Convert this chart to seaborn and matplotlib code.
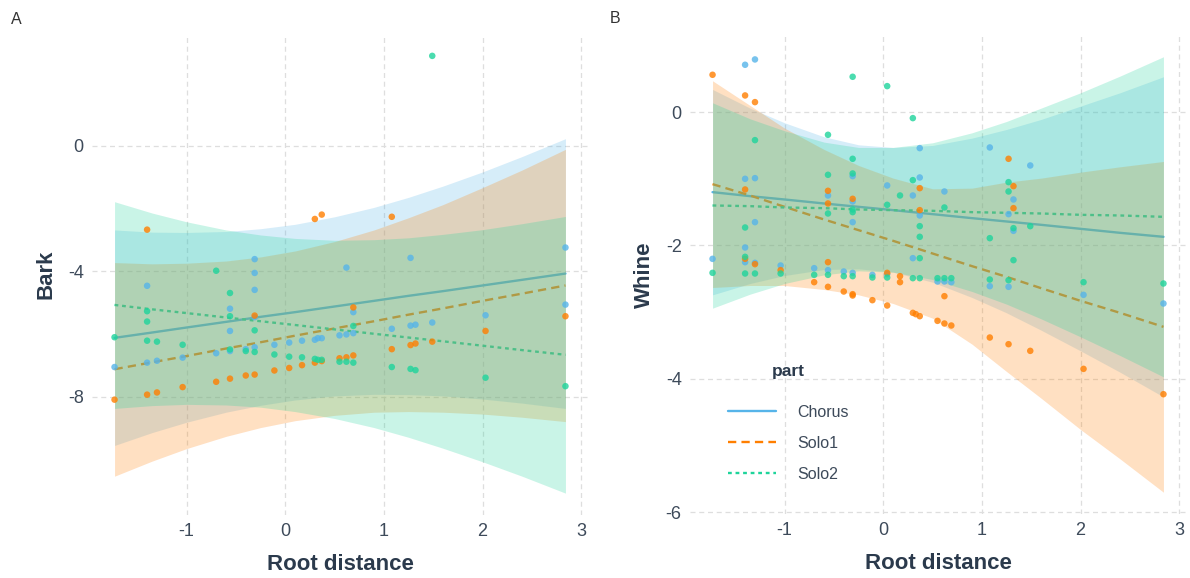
import pandas as pd
import matplotlib
matplotlib.use("Agg")
import matplotlib.pyplot as plt
from matplotlib.lines import Line2D
import seaborn as sns

parts = ["Chorus", "Solo1", "Solo2"]
colors = {"Chorus": "#56B4E9", "Solo1": "#FF7F00", "Solo2": "#1ED49B"}
line_dashes = {"Chorus": "", "Solo1": (3.5, 2.2), "Solo2": (1.6, 1.6)}

grid_x = [-1.73, -1.35, -1.0, -0.6, -0.25, 0.1, 0.5, 0.9, 1.25, 1.6, 2.0, 2.4, 2.84]

# ---- panel A : Bark ----
bark_chorus_x = [-1.73, -1.40, -1.40, -1.30, -1.04, -0.70, -0.56, -0.56, -0.56, -0.40, -0.31, -0.31, -0.31, -0.31, -0.31,
                 -0.11, 0.04, 0.17, 0.30, 0.33, 0.37, 0.55, 0.62, 0.62, 0.69, 0.69, 1.08, 1.27, 1.27, 1.32, 1.49, 2.03, 2.84, 2.84]
bark_chorus_y = [-7.06, -4.47, -6.92, -6.86, -6.76, -6.62, -5.20, -5.91, -6.55, -6.49, -3.62, -4.06, -4.60, -5.47, -6.43,
                 -6.35, -6.28, -6.22, -6.19, -6.14, -6.14, -6.05, -6.02, -3.89, -5.98, -5.31, -5.84, -5.74, -3.58, -5.71, -5.64, -5.41, -3.25, -5.07]
bark_solo1_x = [-1.73, -1.40, -1.40, -1.30, -1.04, -0.70, -0.56, -0.40, -0.31, -0.31, -0.11, 0.04, 0.17, 0.30, 0.37,
                0.30, 0.37, 0.55, 0.62, 0.69, 0.69, 1.08, 1.08, 1.27, 1.32, 1.49, 2.03, 2.84]
bark_solo1_y = [-8.10, -2.68, -7.94, -7.87, -7.70, -7.53, -7.43, -7.33, -7.30, -5.42, -7.17, -7.09, -7.00, -2.34, -2.20,
                -6.92, -6.87, -6.78, -6.75, -6.69, -5.16, -2.27, -6.49, -6.36, -6.31, -6.25, -5.91, -5.44]
bark_solo2_x = [-1.73, -1.40, -1.40, -1.40, -1.30, -1.04, -0.70, -0.56, -0.56, -0.56, -0.40, -0.31, -0.31, -0.11, 0.04,
                0.17, 0.30, 0.33, 0.37, 0.55, 0.62, 0.69, 0.69, 1.08, 1.27, 1.32, 1.49, 2.03, 2.84]
bark_solo2_y = [-6.11, -5.28, -5.61, -6.22, -6.25, -6.35, -3.99, -4.70, -5.44, -6.50, -6.55, -5.89, -6.58, -6.66, -6.73,
                -6.75, -6.80, -6.83, -6.83, -6.89, -6.89, -6.92, -5.75, -7.06, -7.12, -7.16, 2.86, -7.40, -7.67]

bark_chorus_fit = [-6.13, -5.96, -5.80, -5.62, -5.46, -5.31, -5.13, -4.95, -4.79, -4.64, -4.46, -4.28, -4.08]
bark_chorus_hi = [-2.69, -2.76, -2.77, -2.74, -2.65, -2.51, -2.27, -1.97, -1.65, -1.29, -0.84, -0.35, 0.22]
bark_chorus_lo = [-9.56, -9.15, -8.82, -8.50, -8.28, -8.11, -7.98, -7.93, -7.94, -7.98, -8.08, -8.21, -8.38]
bark_solo1_fit = [-7.13, -6.91, -6.71, -6.47, -6.27, -6.06, -5.83, -5.60, -5.39, -5.19, -4.95, -4.72, -4.46]
bark_solo1_hi = [-3.73, -3.77, -3.75, -3.68, -3.55, -3.36, -3.06, -2.69, -2.30, -1.88, -1.34, -0.78, -0.12]
bark_solo1_lo = [-10.54, -10.06, -9.66, -9.27, -8.99, -8.77, -8.60, -8.50, -8.48, -8.50, -8.56, -8.66, -8.80]
bark_solo2_fit = [-5.08, -5.22, -5.34, -5.48, -5.60, -5.72, -5.86, -6.00, -6.12, -6.24, -6.38, -6.52, -6.67]
bark_solo2_hi = [-1.79, -2.15, -2.43, -2.69, -2.85, -2.96, -3.02, -3.00, -2.94, -2.83, -2.68, -2.49, -2.26]
bark_solo2_lo = [-8.38, -8.29, -8.25, -8.27, -8.34, -8.48, -8.70, -8.99, -9.30, -9.65, -10.08, -10.54, -11.08]

# ---- panel B : Whine ----
whine_chorus_x = [-1.73, -1.40, -1.30, -1.40, -1.30, -1.30, -1.40, -1.40, -1.30, -1.04, -0.70, -0.56, -0.56, -0.40,
                  -0.31, -0.31, -0.31, -0.31, -0.11, 0.04, 0.04, 0.30, 0.30, 0.37, 0.37, 0.37, 0.55, 0.62, 0.62, 0.69,
                  1.08, 1.08, 1.27, 1.27, 1.32, 1.32, 1.49, 2.03, 2.84]
whine_chorus_y = [-2.20, 0.71, 0.79, -1.00, -0.99, -1.65, -2.03, -2.25, -2.26, -2.30, -2.34, -1.25, -2.37, -2.39,
                  -2.41, -0.96, -1.34, -1.65, -2.44, -1.10, -2.43, -1.25, -2.19, -0.54, -0.98, -1.55, -2.54, -1.19, -2.54, -2.55,
                  -0.53, -2.61, -2.62, -1.53, -1.31, -1.78, -0.80, -2.74, -2.87]
whine_solo1_x = [-1.73, -1.40, -1.30, -1.40, -1.40, -1.30, -1.04, -0.70, -0.56, -0.56, -0.56, -0.56, -0.40, -0.31,
                 -0.31, -0.31, -0.11, 0.04, 0.04, 0.17, 0.17, 0.30, 0.33, 0.37, 0.37, 0.37, 0.55, 0.62, 0.62, 0.69,
                 1.08, 1.27, 1.27, 1.32, 1.32, 1.49, 2.03, 2.84]
whine_solo1_y = [0.56, 0.25, 0.15, -1.16, -2.20, -2.28, -2.37, -2.55, -1.18, -1.37, -2.25, -2.62, -2.69, -1.30,
                 -2.73, -2.75, -2.82, -2.41, -2.90, -2.46, -2.55, -3.01, -3.03, -3.06, -1.14, -1.47, -3.13, -2.76, -3.17, -3.20,
                 -3.38, -0.70, -3.48, -1.11, -1.44, -3.58, -3.85, -4.23]
whine_solo2_x = [-1.73, -1.40, -1.40, -1.40, -1.30, -1.30, -1.04, -0.70, -0.56, -0.56, -0.56, -0.56, -0.40, -0.31,
                 -0.31, -0.31, -0.31, -0.31, -0.31, -0.11, 0.04, 0.04, 0.04, 0.17, 0.30, 0.30, 0.37, 0.37, 0.37, 0.30,
                 0.37, 0.55, 0.62, 0.62, 0.69, 1.08, 1.08, 1.27, 1.27, 1.27, 1.32, 1.32, 1.49, 2.03, 2.84]
whine_solo2_y = [-2.41, -1.73, -2.17, -2.42, -0.42, -2.42, -2.42, -2.44, -0.34, -0.94, -1.52, -2.44, -2.46, 0.53,
                 -0.70, -0.92, -1.46, -1.50, -2.46, -2.48, 0.39, -1.39, -2.48, -1.25, -1.02, -0.09, -1.71, -1.87, -2.19, -2.49,
                 -2.49, -2.49, -1.43, -2.49, -2.49, -1.89, -2.51, -1.05, -1.19, -2.52, -1.74, -2.22, -1.71, -2.55, -2.57]

whine_chorus_fit = [-1.20, -1.26, -1.31, -1.37, -1.42, -1.47, -1.53, -1.59, -1.64, -1.69, -1.75, -1.81, -1.87]
whine_chorus_hi = [0.34, 0.06, -0.16, -0.37, -0.49, -0.53, -0.50, -0.39, -0.26, -0.11, 0.09, 0.29, 0.53]
whine_chorus_lo = [-2.74, -2.57, -2.45, -2.36, -2.35, -2.40, -2.55, -2.78, -3.01, -3.27, -3.58, -3.90, -4.27]
whine_solo1_fit = [-1.08, -1.25, -1.42, -1.61, -1.77, -1.93, -2.12, -2.31, -2.47, -2.64, -2.83, -3.01, -3.22]
whine_solo1_hi = [0.47, 0.10, -0.24, -0.56, -0.80, -0.99, -1.15, -1.14, -1.05, -0.99, -0.90, -0.82, -0.74]
whine_solo1_lo = [-2.63, -2.60, -2.60, -2.66, -2.74, -2.87, -3.09, -3.48, -3.89, -4.29, -4.76, -5.20, -5.70]
whine_solo2_fit = [-1.40, -1.41, -1.43, -1.44, -1.46, -1.47, -1.48, -1.50, -1.51, -1.52, -1.54, -1.55, -1.57]
whine_solo2_hi = [0.14, -0.10, -0.28, -0.45, -0.53, -0.53, -0.46, -0.31, -0.14, 0.06, 0.29, 0.54, 0.83]
whine_solo2_lo = [-2.94, -2.73, -2.57, -2.44, -2.38, -2.40, -2.51, -2.69, -2.88, -3.10, -3.37, -3.65, -3.97]


def points_frame(xs, ys):
    rows = []
    for p, x, y in zip(parts, xs, ys):
        rows.append(pd.DataFrame({"root_distance": x, "value": y, "part": p}))
    return pd.concat(rows, ignore_index=True)


def fit_frame(fits, his, los):
    rows = []
    for p, f, h, l in zip(parts, fits, his, los):
        rows.append(pd.DataFrame({"root_distance": grid_x, "fit": f, "hi": h, "lo": l, "part": p}))
    return pd.concat(rows, ignore_index=True)


bark_pts = points_frame([bark_chorus_x, bark_solo1_x, bark_solo2_x], [bark_chorus_y, bark_solo1_y, bark_solo2_y])
bark_fit = fit_frame([bark_chorus_fit, bark_solo1_fit, bark_solo2_fit],
                     [bark_chorus_hi, bark_solo1_hi, bark_solo2_hi],
                     [bark_chorus_lo, bark_solo1_lo, bark_solo2_lo])
whine_pts = points_frame([whine_chorus_x, whine_solo1_x, whine_solo2_x], [whine_chorus_y, whine_solo1_y, whine_solo2_y])
whine_fit = fit_frame([whine_chorus_fit, whine_solo1_fit, whine_solo2_fit],
                      [whine_chorus_hi, whine_solo1_hi, whine_solo2_hi],
                      [whine_chorus_lo, whine_solo1_lo, whine_solo2_lo])

sns.set_theme(style="whitegrid")
plt.rcParams['font.family'] = ['Liberation Sans', 'DejaVu Sans']
plt.rcParams['axes.unicode_minus'] = False

TICK_COL = "#3d4a5a"
TITLE_COL = "#2b3a4c"


def draw_panel(ax, pts, fit, ylabel, yticks):
    sns.lineplot(data=fit, x="root_distance", y="fit", hue="part", style="part",
                 hue_order=parts, style_order=parts, palette=colors, dashes=line_dashes,
                 errorbar=None, lw=1.7, legend=False, ax=ax, zorder=1)
    for p in parts:
        sub = fit[fit["part"] == p]
        ax.fill_between(sub["root_distance"], sub["lo"], sub["hi"], color=colors[p],
                        alpha=0.24, lw=0, zorder=2)
    sns.scatterplot(data=pts, x="root_distance", y="value", hue="part", hue_order=parts,
                    palette=colors, s=22, alpha=0.8, linewidth=0, legend=False, ax=ax, zorder=3)

    # ggplot style 5% expansion
    xs = pd.concat([pts["root_distance"], fit["root_distance"]])
    ys = pd.concat([pts["value"], fit["lo"], fit["hi"]])
    xpad = 0.05 * (xs.max() - xs.min())
    ypad = 0.05 * (ys.max() - ys.min())
    ax.set_xlim(xs.min() - xpad, xs.max() + xpad)
    ax.set_ylim(ys.min() - ypad, ys.max() + ypad)

    ax.set_xticks([-1, 0, 1, 2, 3])
    ax.set_yticks(yticks)
    ax.grid(True, color="#dedede", linestyle=(0, (4, 3)), lw=0.9)
    ax.set_axisbelow(True)
    for s in ax.spines.values():
        s.set_visible(False)
    ax.tick_params(axis="both", labelsize=13, colors=TICK_COL, length=0, pad=6)
    ax.set_xlabel("Root distance", fontsize=16, fontweight="bold", color=TITLE_COL, labelpad=10)
    ax.set_ylabel(ylabel, fontsize=16, fontweight="bold", color=TITLE_COL, labelpad=8)


fig = plt.figure(figsize=(11.9, 5.78), dpi=100)
ax_a = fig.add_axes([92 / 1190, 1 - 515 / 578, 496 / 1190, 481 / 578])
ax_b = fig.add_axes([690 / 1190, 1 - 514 / 578, 496 / 1190, 479 / 578])

draw_panel(ax_a, bark_pts, bark_fit, "Bark", [0, -4, -8])
draw_panel(ax_b, whine_pts, whine_fit, "Whine", [0, -2, -4, -6])

handles = []
for p in parts:
    if line_dashes[p] == "":
        handles.append(Line2D([], [], color=colors[p], lw=1.7))
    else:
        handles.append(Line2D([], [], color=colors[p], lw=1.7, dashes=line_dashes[p]))
leg = ax_b.legend(handles, parts, title="part", loc="lower left", bbox_to_anchor=(0.048, 0.037),
                  frameon=False, fontsize=11.5, labelcolor=TICK_COL, handlelength=3.0,
                  handletextpad=1.3, labelspacing=1.0,
                  title_fontproperties={"weight": "bold", "size": 12.5})
leg.get_title().set_color(TITLE_COL)
# wider gap between the title and the first key, as in the reference
leg._legend_box.sep = 19

fig.text(0.009, 0.958, "A", fontsize=11.5, color="#333333")
fig.text(0.512, 0.96, "B", fontsize=11.5, color="#333333")

fig.savefig("out.png", dpi=100)
